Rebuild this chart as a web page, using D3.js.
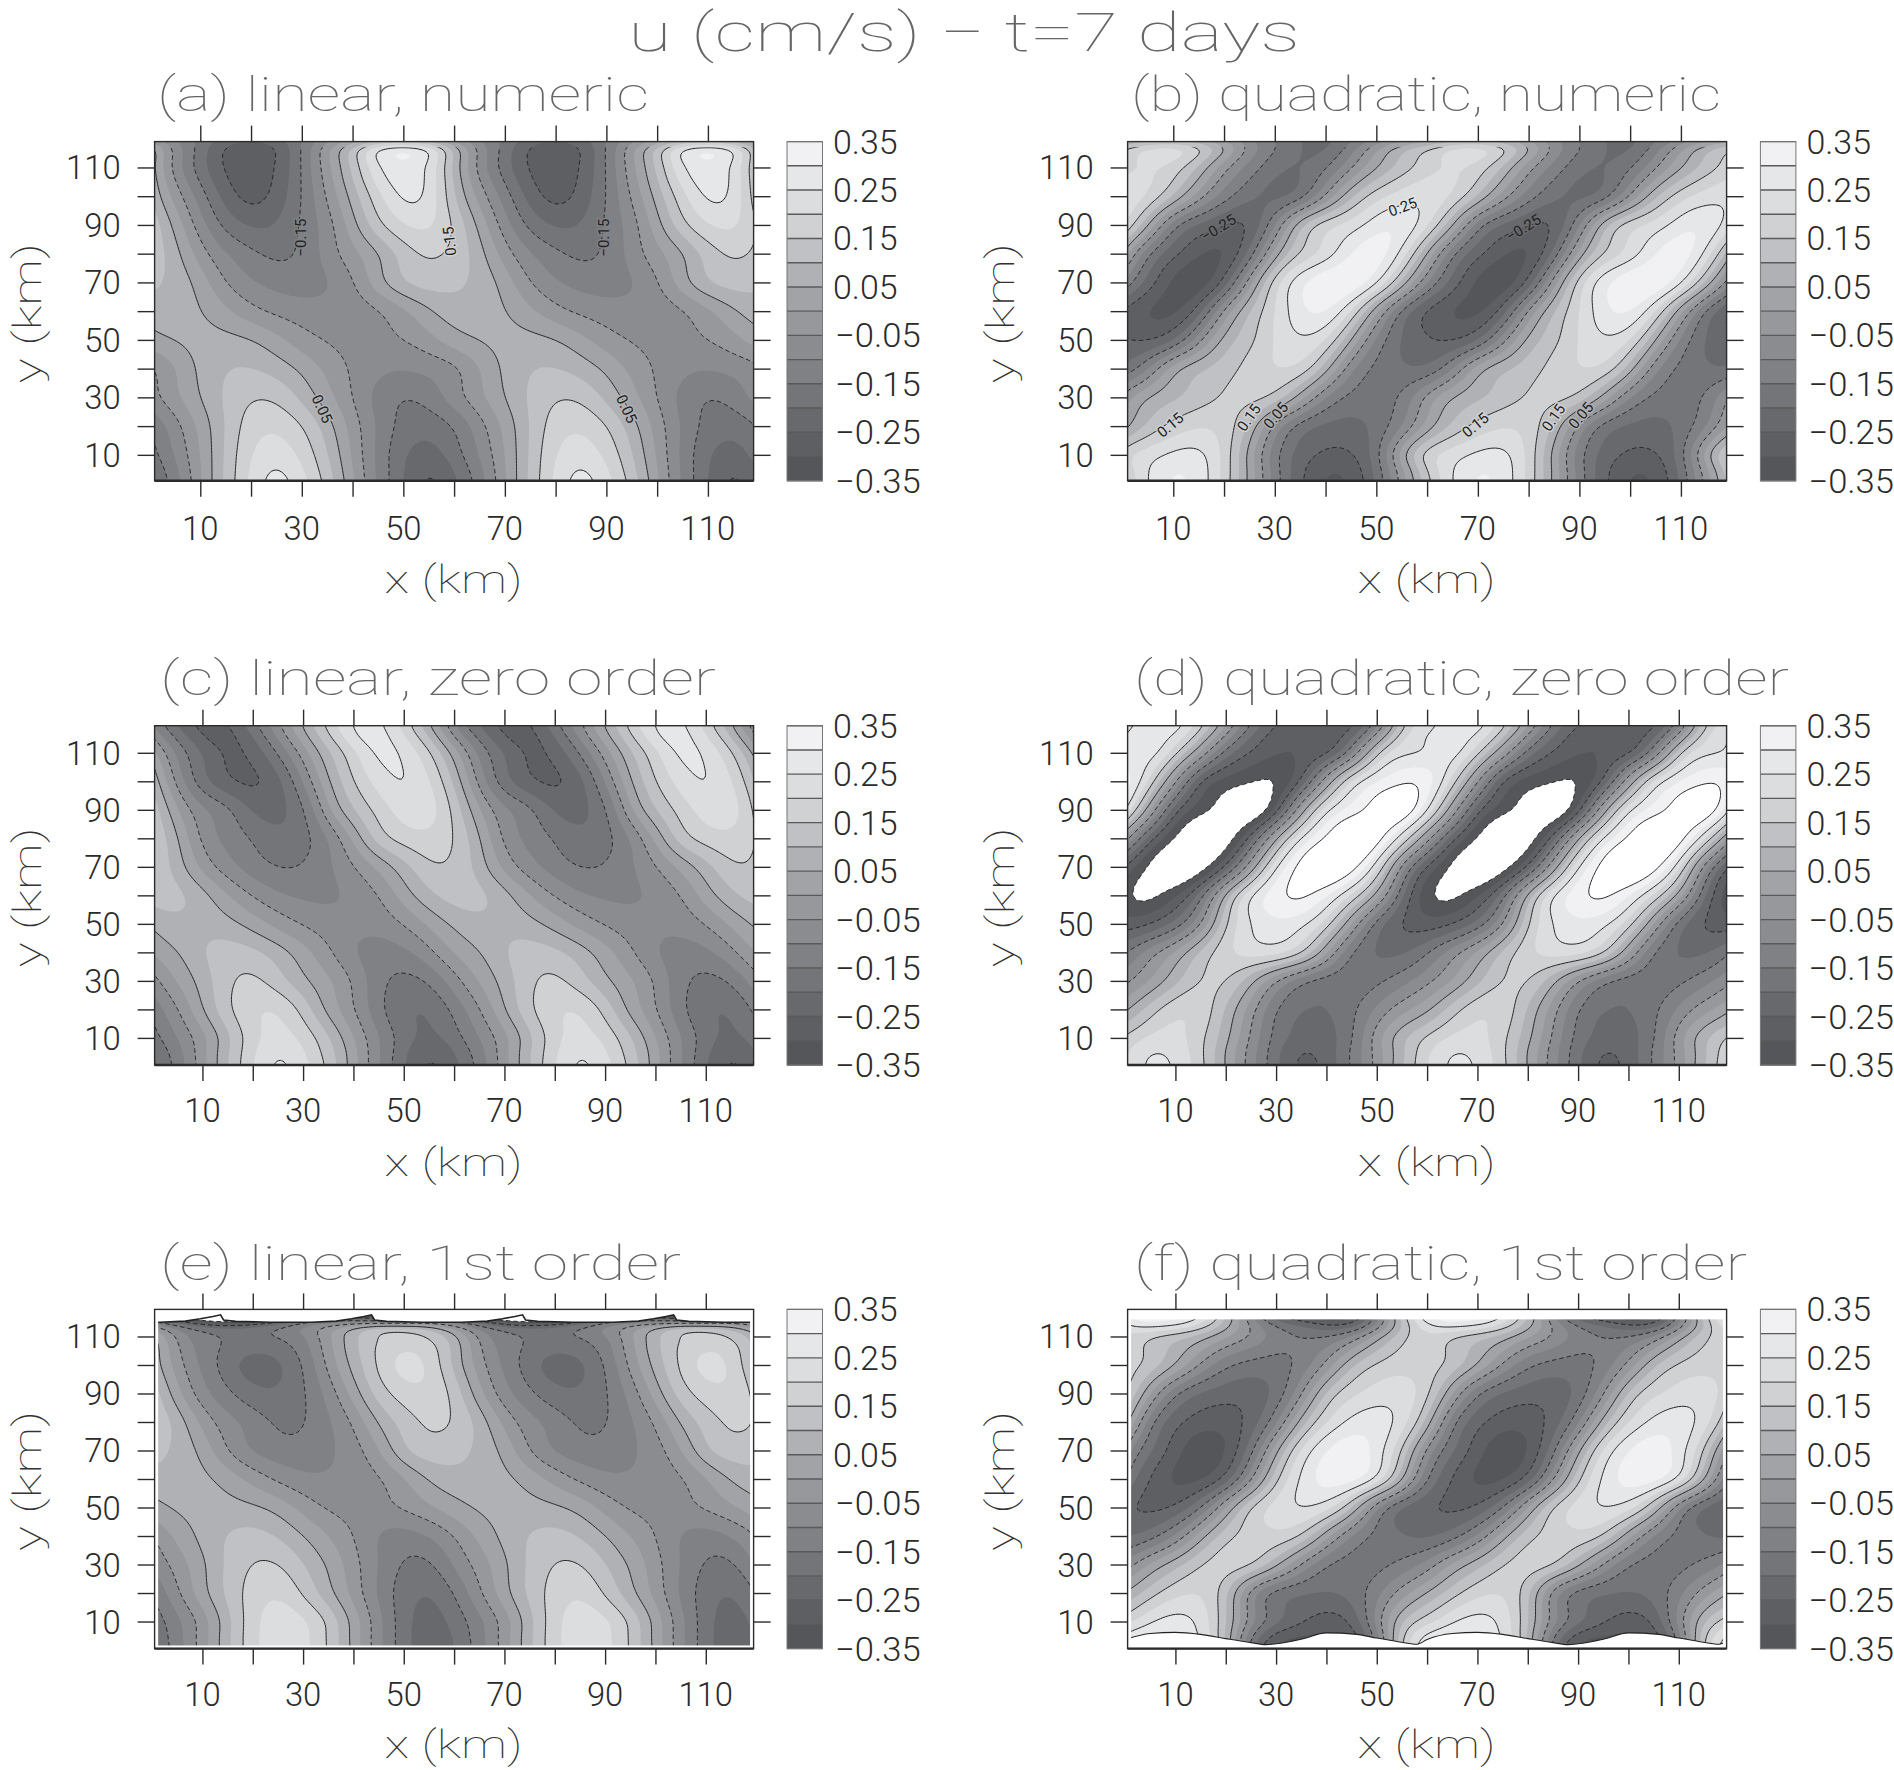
<!DOCTYPE html>
<html><head><meta charset="utf-8">
<script src="https://cdn.jsdelivr.net/npm/d3@7"></script>
<style>html,body{margin:0;padding:0;background:#fff}svg{display:block}text{font-family:Roboto,"Liberation Sans",sans-serif}</style>
</head><body><svg id="c" width="1894" height="1770"></svg>
<script>
const pageTitle="u (cm/s) \u2212 t=7 days";
const panelTitles=["(a) linear, numeric","(b) quadratic, numeric","(c) linear, zero order","(d) quadratic, zero order","(e) linear, 1st order","(f) quadratic, 1st order"];
const colX=[0,5,10,15,20,25,30,35,40,45,50,55];   // one 60 km wave period
const rowsBand=[0,5,10,20,30,40,50,60,70,80,90,100,110,117.5,120];
const rowsUpper=[0,5,10,20,30,40,50,60,70,80,90,100,110,116,120];
const rowsLower=[0,5,10,20,30,40,50,60,70,80,90,100,110,114,118];
const levels=[-0.35,-0.30,-0.25,-0.20,-0.15,-0.10,-0.05,0,0.05,0.10,0.15,0.20,0.25,0.30,0.35];
const lineLevels=[-0.35,-0.25,-0.15,-0.05,0.05,0.15,0.25,0.35];
const greys=["#555659","#5e5f62","#68696c","#747578","#808184","#8b8c8f","#97989b","#a2a3a6","#b0b1b4","#c0c1c4","#d0d1d3","#dcddde","#e6e7e9","#f1f1f3"];
const xTickValues=[10,20,30,40,50,60,70,80,90,100,110];
const cbLabels=[0.35,0.25,0.15,0.05,-0.05,-0.15,-0.25,-0.35];

const uA=[
[-.21,-.135,-.005,.115,.215,.29,.22,.14,.01,-.115,-.196,-.285],
[-.195,-.12,-.003,.113,.21,.272,.205,.125,0,-.115,-.197,-.265],
[-.175,-.10,0,.11,.205,.24,.19,.11,-.01,-.115,-.197,-.235],
[-.15,-.07,.015,.105,.185,.195,.155,.075,-.025,-.11,-.175,-.185],
[-.075,-.015,.05,.11,.15,.145,.09,.02,-.05,-.12,-.155,-.135],
[-.065,0,.065,.10,.105,.08,.04,-.015,-.06,-.09,-.10,-.085],
[.03,.052,.068,.066,.054,.015,-.03,-.055,-.07,-.068,-.052,-.02],
[.083,.08,.055,.01,-.035,-.062,-.078,-.085,-.08,-.055,-.01,.045],
[.11,.09,.03,-.055,-.095,-.12,-.125,-.105,-.06,.03,.10,.125],
[.14,.075,-.03,-.10,-.14,-.167,-.145,-.08,-.015,.045,.13,.165],
[.145,.035,-.08,-.17,-.21,-.205,-.14,-.08,.03,.14,.20,.22],
[.10,-.02,-.125,-.225,-.28,-.235,-.15,-.045,.07,.19,.27,.255],
[.08,-.075,-.175,-.265,-.29,-.255,-.15,-.015,.105,.26,.29,.26],
[.07,-.07,-.17,-.26,-.29,-.255,-.15,-.015,.10,.255,.285,.25],
[-.08,-.12,-.16,-.2,-.23,-.2,-.15,-.1,-.05,-.03,-.02,-.04]];
const uB=[
[.13,.26,.315,.29,.19,.035,-.125,-.25,-.31,-.31,-.20,-.03],
[.165,.25,.305,.29,.19,.04,-.135,-.24,-.30,-.295,-.19,-.015],
[.19,.225,.265,.275,.195,.035,-.145,-.225,-.265,-.26,-.195,.04],
[.03,.115,.17,.2,.19,.10,-.07,-.18,-.21,-.22,-.19,-.11],
[-.03,.055,.09,.125,.16,.17,.145,.03,-.11,-.17,-.18,-.155],
[-.205,-.11,.04,.09,.125,.17,.2,.20,.08,-.10,-.17,-.19],
[-.245,-.26,-.215,-.07,.08,.13,.21,.25,.22,.05,-.12,-.21],
[-.26,-.30,-.325,-.24,-.03,.10,.20,.295,.32,.21,.015,-.17],
[-.11,-.22,-.32,-.345,-.25,-.02,.185,.29,.345,.355,.27,.09],
[.05,-.155,-.235,-.30,-.32,-.20,.04,.165,.215,.305,.345,.245],
[.215,.065,-.15,-.205,-.25,-.27,-.11,.10,.185,.215,.285,.305],
[.245,.20,.10,-.03,-.13,-.195,-.215,-.19,-.04,.095,.185,.225],
[.18,.215,.185,.10,-.04,-.12,-.19,-.21,-.165,-.055,.05,.125],
[.13,.205,.225,.17,.07,-.07,-.145,-.20,-.225,-.135,-.02,.08],
[-.04,0,.01,0,-.04,-.1,-.16,-.2,-.22,-.18,-.12,-.08]];
const uC=[
[-.215,-.14,-.02,.10,.20,.28,.22,.145,.02,-.10,-.195,-.28],
[-.20,-.125,-.02,.10,.19,.265,.205,.13,.02,-.10,-.185,-.265],
[-.175,-.10,-.02,.09,.19,.23,.19,.11,0,-.10,-.18,-.225],
[-.135,-.055,.045,.145,.195,.205,.135,.03,-.04,-.14,-.195,-.205],
[-.07,.005,.07,.145,.17,.125,.06,.01,-.055,-.14,-.17,-.15],
[.01,.045,.10,.125,.115,.075,.02,-.04,-.10,-.125,-.115,-.07],
[.065,.09,.09,.07,.03,-.02,-.055,-.08,-.09,-.085,-.05,.01],
[.125,.115,.07,0,-.055,-.095,-.11,-.11,-.09,-.055,.025,.09],
[.145,.085,-.02,-.08,-.125,-.155,-.15,-.11,-.055,.015,.08,.15],
[.155,.06,-.075,-.115,-.155,-.195,-.175,-.10,.01,.135,.17,.195],
[.14,0,-.10,-.13,-.22,-.215,-.175,0,.10,.17,.23,.235],
[.10,-.075,-.185,-.245,-.265,-.225,-.10,.05,.15,.225,.265,.21],
[.03,-.125,-.20,-.275,-.24,-.15,-.025,.095,.185,.28,.245,.165],
[-.07,-.165,-.26,-.28,-.20,-.09,.035,.14,.25,.29,.20,.11],
[-.11,-.21,-.28,-.26,-.165,-.06,.06,.17,.27,.27,.18,.06]];
const uD=[
[.20,.275,.25,.175,.045,-.08,-.19,-.28,-.24,-.145,-.035,.10],
[.195,.26,.24,.17,.045,-.075,-.19,-.265,-.235,-.145,-.03,.09],
[.16,.215,.225,.17,.07,-.06,-.18,-.225,-.225,-.17,-.015,.09],
[.03,.13,.19,.20,.095,-.02,-.16,-.20,-.205,-.17,-.09,-.015],
[-.065,0,.09,.16,.165,.07,-.05,-.14,-.175,-.185,-.165,-.12],
[-.16,-.07,0,.115,.19,.225,.225,.17,.01,-.165,-.205,-.215],
[-.285,-.255,-.185,-.07,.165,.255,.295,.27,.19,0,-.185,-.255],
[-.35,-.375,-.31,-.20,.075,.26,.335,.375,.31,.20,.04,-.20],
[-.265,-.36,-.46,-.39,-.26,0,.27,.37,.46,.38,.25,-.09],
[-.02,-.25,-.35,-.46,-.40,-.25,.05,.275,.355,.45,.40,.22],
[.265,.005,-.26,-.33,-.38,-.44,-.31,.025,.26,.32,.38,.44],
[.35,.19,-.04,-.275,-.32,-.345,-.365,-.265,0,.23,.30,.345],
[.24,.305,.165,0,-.19,-.255,-.305,-.295,-.275,-.14,.17,.25],
[.25,.28,.26,.12,-.06,-.21,-.28,-.305,-.29,-.24,-.04,.21],
[.24,.26,.30,.18,.02,-.16,-.25,-.30,-.30,-.275,-.17,.16]];
const uE=[
[-.21,-.125,-.03,.09,.19,.24,.225,.15,.035,-.085,-.185,-.24],
[-.20,-.12,-.03,.09,.19,.24,.22,.15,.03,-.085,-.185,-.24],
[-.185,-.115,-.03,.085,.19,.235,.215,.145,.03,-.085,-.185,-.235],
[-.15,-.06,.03,.115,.175,.205,.145,.07,-.015,-.11,-.18,-.21],
[-.09,-.03,.04,.115,.155,.16,.10,.045,-.03,-.105,-.16,-.17],
[-.05,.015,.065,.105,.12,.10,.05,0,-.05,-.105,-.125,-.10],
[.03,.06,.07,.07,.06,.035,-.02,-.06,-.07,-.07,-.045,-.01],
[.085,.08,.065,.03,-.02,-.06,-.09,-.095,-.08,-.06,-.005,.06],
[.12,.09,.04,-.055,-.105,-.13,-.135,-.11,-.075,-.01,.10,.13],
[.15,.085,-.02,-.085,-.12,-.165,-.16,-.105,-.05,.065,.12,.17],
[.14,.015,-.085,-.14,-.185,-.20,-.16,-.085,.02,.13,.175,.20],
[.09,-.03,-.115,-.175,-.235,-.21,-.155,-.035,.07,.16,.23,.20],
[.08,-.075,-.14,-.155,-.165,-.15,-.12,-.01,.085,.155,.165,.15],
[-.05,-.14,-.2,-.22,-.2,-.16,-.08,-.04,.03,.10,.09,.06],
[-.35,-.45,-.6,-.7,-.6,-.5,-.35,-.35,-.45,-.6,-.6,-.45]];
const uF=[
[.30,.33,.34,.28,.13,-.22,-.33,-.34,-.34,-.31,-.18,.2],
[.27,.30,.31,.25,.12,-.165,-.28,-.30,-.31,-.29,-.15,.17],
[.175,.25,.28,.245,.12,-.095,-.19,-.245,-.28,-.26,-.085,.115],
[.05,.13,.19,.205,.14,-.09,-.175,-.195,-.205,-.19,-.12,-.02],
[-.09,.015,.075,.155,.18,.165,.065,-.055,-.155,-.175,-.17,-.135],
[-.215,-.175,-.10,.03,.14,.175,.19,.16,.015,-.11,-.17,-.195],
[-.24,-.265,-.25,-.16,0,.165,.22,.26,.23,.12,-.11,-.21],
[-.17,-.25,-.32,-.31,-.245,-.06,.15,.265,.33,.325,.255,.06],
[-.085,-.195,-.28,-.35,-.31,-.18,.04,.22,.30,.35,.28,.17],
[.10,-.155,-.235,-.28,-.285,-.235,-.125,.085,.205,.27,.285,.235],
[.18,0,-.155,-.205,-.23,-.235,-.195,-.065,.125,.19,.225,.235],
[.18,.135,.05,-.06,-.145,-.17,-.175,-.14,-.04,.10,.16,.185],
[.20,.145,.12,.08,0,-.05,-.13,-.15,-.155,-.10,.03,.14],
[.26,.28,.26,.20,.08,-.06,-.16,-.20,-.25,-.26,-.10,.10],
[.32,.38,.36,.28,.12,-.12,-.28,-.34,-.38,-.36,-.16,.16]];

// blank areas of panels (e) and (f)
const spikeKm=[-16.4,13.6,43.6,73.6,103.6];
const eTopDx=[0.6,3,10,18,23,26,28.5,30];
const eTopY=[115.8,115.3,115,115,115.4,116.2,117,117.6];
const fLowX=[0,5,10,15,20,25,28,30,35,40,46,50,54,58,60];
const fLowY=[3.7,5.8,6.2,5.5,4,2.6,1.9,2.2,3.8,6,5.5,4.2,3,2,3.7];

const contourLabels=[
 [[29.8,85.6,"\u22120.15",-90],[59.1,84.3,"0.15",-96],[89.5,85.6,"\u22120.15",-90],[34,26,"0.05",65],[94,26,"0.05",65]],
 [[18.9,89,"\u22120.25",-32],[79,89,"\u22120.25",-32],[55.2,96.3,"0.25",-20],[9.4,20.4,"0.15",-40],[69.5,20.4,"0.15",-40],[24.9,23,"0.15",-55],[84.9,23,"0.15",-55],[30.2,23.7,"0.05",-50],[90.3,23.7,"0.05",-50]],
 [],[],[],[]];

const layout=[
 {l:154.6,t:141.6,b:480.7,dom:[1,119],cb:787,lab:540,xl:593,tb:111,tx:157,tw:492,u:uA,rows:rowsBand,lineTop:117},
 {l:1127.6,t:141.6,b:480.7,dom:[1,119],cb:1760.4,lab:540,xl:593,tb:111,tx:1131,tw:590,u:uB,rows:rowsBand,lineTop:117},
 {l:154.6,t:725.7,b:1065,dom:[.5,119.5],cb:787,lab:1122,xl:1176,tb:695,tx:160,tw:556,u:uC,rows:rowsUpper},
 {l:1127.6,t:725.7,b:1065,dom:[.5,119.5],cb:1760.4,lab:1122,xl:1176,tb:695,tx:1134,tw:655,u:uD,rows:rowsUpper},
 {l:154.6,t:1309.4,b:1648.6,dom:[.5,119.5],cb:787,lab:1706,xl:1758,tb:1280,tx:160,tw:521,u:uE,rows:rowsLower,mask:"e"},
 {l:1127.6,t:1309.4,b:1648.6,dom:[.5,119.5],cb:1760.4,lab:1706,xl:1758,tb:1280,tx:1134,tw:613,u:uF,rows:rowsLower,mask:"f"}];

const W=599, STEP=0.5;
const svg=d3.select("#c");
const INK="#2b2b2b", TITLE="#7c7c7c";
const digitW=s=>{let w=0;for(const c of s)w+=c==="."?10:c==="\u2212"?21:18.2;return w};

// cubic resampling of the read grid, only to trace smooth contour curves
function hermite(xs,vs,q){
  let i=0; while(i<xs.length-2&&q>xs[i+1])i++;
  const slope=k=>k<=0?(vs[1]-vs[0])/(xs[1]-xs[0]):k>=xs.length-1?(vs[k]-vs[k-1])/(xs[k]-xs[k-1]):(vs[k+1]-vs[k-1])/(xs[k+1]-xs[k-1]);
  const h=xs[i+1]-xs[i],t=(q-xs[i])/h,m0=slope(i)*h,m1=slope(i+1)*h;
  return (2*t*t*t-3*t*t+1)*vs[i]+(t*t*t-2*t*t+t)*m0+(-2*t*t*t+3*t*t)*vs[i+1]+(t*t*t-t*t)*m1;
}
function fineGrid(u,rows){
  const xs=[];for(let k=-2;k<=5;k++)for(const c of colX)xs.push(k*60+c);
  const tiled=u.map(r=>xs.map((_,i)=>r[((i%12)+12)%12]));
  const fx=d3.range(-15,135.01,STEP), fy=d3.range(rows[0],rows[rows.length-1]+.01,STEP);
  const byCol=tiled.map(r=>fx.map(q=>hermite(xs,r,q)));
  const vals=new Float64Array(fx.length*fy.length);
  fx.forEach((_,ci)=>{const col=byCol.map(r=>r[ci]);fy.forEach((q,ri)=>{vals[ri*fx.length+ci]=hermite(rows,col,q)})});
  d3.blur2({data:vals,width:fx.length,height:fy.length},5,3);
  return {vals,nx:fx.length,ny:fy.length,x0:fx[0],y0:fy[0]};
}

layout.forEach((p,idx)=>{
  const x=d3.scaleLinear().domain(p.dom).range([p.l,p.l+W]);
  const y=d3.scaleLinear().domain(p.dom).range([p.b,p.t]);
  const g=svg.append("g");
  const cid="clip"+idx;
  const defs=svg.append("defs");
  defs.append("clipPath").attr("id",cid).append("rect").attr("x",p.l).attr("y",p.t).attr("width",W).attr("height",p.b-p.t);
  const lineTopPx=p.lineTop?y(p.lineTop):p.t;
  defs.append("clipPath").attr("id",cid+"l").append("rect").attr("x",p.l).attr("y",lineTopPx).attr("width",W).attr("height",p.b-lineTopPx);
  const plot=g.append("g").attr("clip-path",`url(#${cid})`);
  plot.append("rect").attr("x",p.l).attr("y",p.t).attr("width",W).attr("height",p.b-p.t).attr("fill","#fff");

  const G=fineGrid(p.u,p.rows);
  const proj=d3.geoTransform({point(a,b){this.stream.point(x(G.x0+(a-.5)*STEP),y(G.y0+(b-.5)*STEP))}});
  const path=d3.geoPath(proj);
  const contour=d3.contours().size([G.nx,G.ny]);
  levels.forEach((lv,i)=>{
    plot.append("path").attr("d",path(contour.contour(G.vals,lv))).attr("fill",i<greys.length?greys[i]:"#fff");
  });
  const lines=plot.append("g").attr("clip-path",`url(#${cid}l)`);
  lineLevels.forEach(lv=>{
    lines.append("path").attr("d",path(contour.contour(G.vals,lv))).attr("fill","none")
      .attr("stroke","#262626").attr("stroke-width",1).attr("stroke-dasharray",lv<0?"4.5 3":null);
  });
  contourLabels[idx].forEach(([kx,ky,s,a])=>{
    const v=parseFloat(s.replace("\u2212","-"));
    const band=greys[Math.max(0,Math.min(13,d3.bisectRight(levels,v)-1))];
    plot.append("text").attr("transform",`translate(${x(kx)},${y(ky)}) rotate(${a})`).attr("text-anchor","middle").attr("dy","0.35em")
      .attr("font-size",15).attr("fill","#222").attr("stroke",band).attr("stroke-width",3).attr("paint-order","stroke").text(s);
  });
  // blank zones
  if(p.mask==="e"){
    const pts=[];spikeKm.forEach(s=>{eTopDx.forEach((d,i)=>pts.push([s+d,eTopY[i]]))});
    const ar=d3.area().x(d=>x(d[0])).y0(p.t-2).y1(d=>y(d[1]));
    plot.append("path").attr("d",ar(pts)).attr("fill","#fff");
    plot.append("path").attr("d",d3.line().x(d=>x(d[0])).y(d=>y(d[1]))(pts)).attr("fill","none").attr("stroke","#222").attr("stroke-width",1.6);
    plot.append("rect").attr("x",p.l).attr("y",y(1.6)).attr("width",W).attr("height",12).attr("fill","#fff");
  }
  if(p.mask==="f"){
    const pts=[];[0,60].forEach(o=>fLowX.forEach((d,i)=>pts.push([o+d,fLowY[i]])));
    const ar=d3.area().x(d=>x(d[0])).y0(p.b+2).y1(d=>y(d[1])).curve(d3.curveMonotoneX);
    plot.append("path").attr("d",ar(pts)).attr("fill","#fff");
    plot.append("path").attr("d",d3.line().x(d=>x(d[0])).y(d=>y(d[1])).curve(d3.curveMonotoneX)(pts)).attr("fill","none").attr("stroke","#222").attr("stroke-width",1.1);
    plot.append("rect").attr("x",p.l).attr("y",p.t).attr("width",W).attr("height",y(116)-p.t).attr("fill","#fff");
  }
  if(p.mask){
    plot.append("rect").attr("x",p.l).attr("y",p.t).attr("width",x(1)-p.l+1).attr("height",p.b-p.t).attr("fill","#fff");
    plot.append("rect").attr("x",x(119)-1).attr("y",p.t).attr("width",p.l+W-x(119)+2).attr("height",p.b-p.t).attr("fill","#fff");
  }
  // frame and axes
  g.append("rect").attr("x",p.l).attr("y",p.t).attr("width",W).attr("height",p.b-p.t).attr("fill","none").attr("stroke",INK).attr("stroke-width",1.4);
  g.append("line").attr("x1",p.l).attr("x2",p.l+W).attr("y1",p.b).attr("y2",p.b).attr("stroke",INK).attr("stroke-width",2.4);
  const odd=d=>d%20===10?String(d):"";
  const styleAxis=s=>{s.select(".domain").remove();s.selectAll(".tick line").attr("stroke",INK).attr("stroke-width",1.4)};
  g.append("g").attr("transform",`translate(0,${p.b})`).call(d3.axisBottom(x).tickValues(xTickValues).tickSize(16).tickFormat(()=>"")).call(styleAxis);
  g.append("g").attr("transform",`translate(0,${p.t})`).call(d3.axisTop(x).tickValues(xTickValues).tickSize(16).tickFormat(()=>"")).call(styleAxis);
  g.append("g").attr("transform",`translate(${p.l},0)`).call(d3.axisLeft(y).tickValues(xTickValues).tickSize(17).tickFormat(()=>"")).call(styleAxis);
  g.append("g").attr("transform",`translate(${p.l+W},0)`).call(d3.axisRight(y).tickValues(xTickValues).tickSize(17).tickFormat(()=>"")).call(styleAxis);
  const num=(sel,s)=>sel.attr("font-size",33).attr("font-weight",300).attr("fill",INK).attr("textLength",digitW(s)).attr("lengthAdjust","spacingAndGlyphs").text(s);
  xTickValues.filter(d=>odd(d)).forEach(d=>{
    num(g.append("text").attr("x",x(d)).attr("y",p.lab).attr("text-anchor","middle"),String(d));
    num(g.append("text").attr("x",p.l-34).attr("y",y(d)+12).attr("text-anchor","end"),String(d));
  });
  // axis names
  g.append("text").attr("x",p.l+299).attr("y",p.xl).attr("text-anchor","middle").attr("font-size",38).attr("font-weight",100).attr("fill","#333")
    .attr("textLength",138).attr("lengthAdjust","spacingAndGlyphs").text("x (km)");
  g.append("text").attr("transform",`translate(${p.l-114},${(p.t+p.b)/2+2}) rotate(-90)`).attr("text-anchor","middle").attr("font-size",38).attr("font-weight",100).attr("fill","#333")
    .attr("textLength",140).attr("lengthAdjust","spacingAndGlyphs").text("y (km)");
  g.append("text").attr("x",p.tx).attr("y",p.tb).attr("font-size",48).attr("font-weight",100).attr("fill","#666")
    .attr("textLength",p.tw).attr("lengthAdjust","spacingAndGlyphs").text(panelTitles[idx]);

  // colour bar
  const cy=d3.scaleLinear().domain([-.35,.35]).range([p.b,p.t]);
  const cw=35.5;
  greys.forEach((c,i)=>{
    g.append("rect").attr("x",p.cb).attr("y",cy(levels[i+1])).attr("width",cw).attr("height",cy(levels[i])-cy(levels[i+1])).attr("fill",c);
  });
  levels.forEach(v=>g.append("line").attr("x1",p.cb).attr("x2",p.cb+cw).attr("y1",cy(v)).attr("y2",cy(v)).attr("stroke","#5a5a5a").attr("stroke-width",1.4));
  g.append("rect").attr("x",p.cb).attr("y",p.t).attr("width",cw).attr("height",p.b-p.t).attr("fill","none").attr("stroke","#777").attr("stroke-width",1);
  cbLabels.forEach(v=>{
    const s=(v<0?"\u2212":"")+Math.abs(v).toFixed(2);
    num(g.append("text").attr("x",p.cb+(v<0?48:46)).attr("y",cy(v)+12),s);
  });
});

svg.append("text").attr("x",628).attr("y",51).attr("font-size",54).attr("font-weight",100).attr("fill","#666")
  .attr("textLength",672).attr("lengthAdjust","spacingAndGlyphs").text(pageTitle);
</script></body></html>
